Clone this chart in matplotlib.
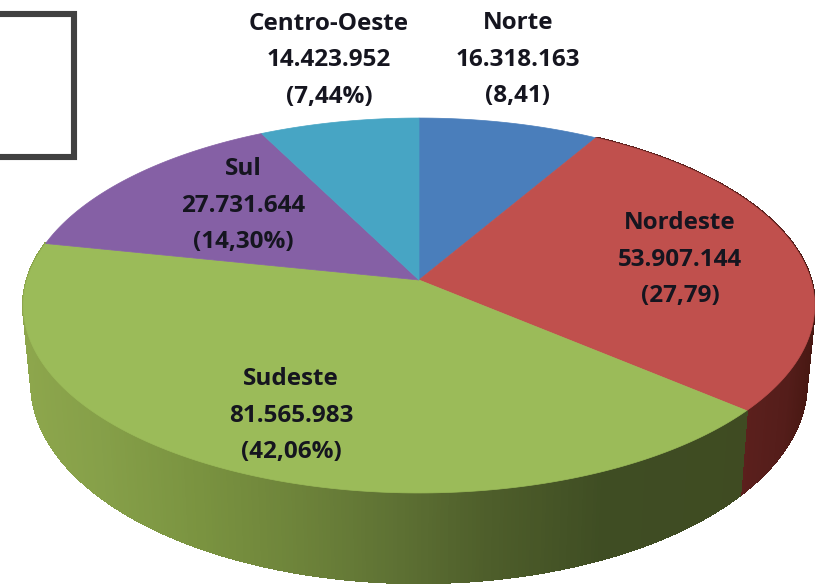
import numpy as np
import matplotlib
matplotlib.use('Agg')
import matplotlib.pyplot as plt
from matplotlib.collections import PolyCollection
from matplotlib.colors import LinearSegmentedColormap

regioes = ['Norte', 'Nordeste', 'Sudeste', 'Sul', 'Centro-Oeste']
populacao = [16318163, 53907144, 81565983, 27731644, 14423952]
pop_labels = ['16.318.163', '53.907.144', '81.565.983', '27.731.644', '14.423.952']
pct_labels = ['(8,41)', '(27,79)', '(42,06%)', '(14,30%)', '(7,44%)']

cores = ['#4a7ebb', '#c0504d', '#9bbb59', '#8560a5', '#47a5c4']

#label centres, pixels
label_x = [518, 680, 291, 243, 329]
label_y = [23, 223, 379, 169, 24]

#wall colours, by x pixel
wall_sudeste = [(28, '#8da64c'), (100, '#86a049'), (200, '#7a9340'), (300, '#6d833a'),
                (400, '#5d7033'), (480, '#4f5f2b'), (600, '#3f4d23'), (760, '#3f4b22')]
wall_nordeste = [(735, '#5c201d'), (780, '#541d1a'), (815, '#43160f')]

#projection of the tilted disc
cx, cy = 419, 280


def topo(ang):
    u, v = np.sin(ang), np.cos(ang)
    w = 1 + 0.136*v
    return cx + 392*u/w, cy - 184*v/w


def base(ang):
    u, v = np.sin(ang), np.cos(ang)
    w = 1 + 0.136*v
    return cx + 384*u/w, cy + 76 - 196*v/w


def make_cmap(stops):
    x0, x1 = stops[0][0], stops[-1][0]
    return LinearSegmentedColormap.from_list('w', [((x-x0)/(x1-x0), c) for x, c in stops]), x0, x1


fig = plt.figure(figsize=(8.15, 5.84), dpi=100)
ax = fig.add_axes([0, 0, 1, 1])
ax.set_xlim(0, 815)
ax.set_ylim(584, 0)
ax.axis('off')

fim = np.cumsum(populacao)/np.sum(populacao)*2*np.pi
ini = np.r_[0, fim[:-1]]

#side walls first, the top hides whatever is behind it
for i, stops in [(1, wall_nordeste), (2, wall_sudeste)]:
    cmap, x0, x1 = make_cmap(stops)
    t = np.linspace(ini[i], fim[i], 300)
    xt, yt = topo(t)
    xb, yb = base(t)
    #plain base shape so the strips leave no seams
    ax.fill(np.r_[xt, xb[::-1]], np.r_[yt, yb[::-1]], color=cmap(0.5), lw=0)
    quads = []
    fc = []
    for k in range(len(t)-1):
        quads.append([(xt[k], yt[k]), (xt[k+1], yt[k+1]), (xb[k+1], yb[k+1]), (xb[k], yb[k])])
        fc.append(cmap((0.5*(xb[k]+xb[k+1])-x0)/(x1-x0)))
    ax.add_collection(PolyCollection(quads, facecolors=fc, edgecolors=fc, linewidths=1.2,
                                     antialiaseds=False))

#top of the pie
for i in range(len(populacao)):
    t = np.linspace(ini[i], fim[i], 200)
    x, y = topo(t)
    ax.fill(np.r_[cx, x], np.r_[cy, y], color=cores[i], lw=0.5)

#box in the corner
ax.plot([-6, 73.7, 73.7, -6], [14, 14, 156.5, 156.5], color='#404040', lw=4.4,
        solid_joinstyle='miter', solid_capstyle='butt')

for i in range(len(regioes)):
    linhas = [regioes[i], pop_labels[i], pct_labels[i]]
    for j in range(3):
        ax.text(label_x[i], label_y[i]+36.5*j, linhas[j], ha='center', va='center',
                fontsize=17.5, fontweight='bold', family='Open Sans', color='#15151f')

plt.savefig('out.png', dpi=100)
